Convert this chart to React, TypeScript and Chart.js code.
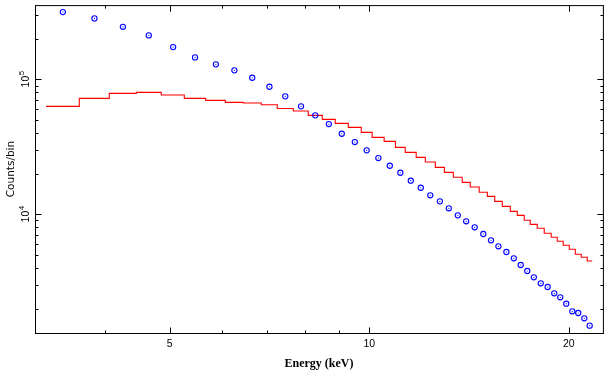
import { useEffect, useRef } from "react";
import { Chart, registerables } from "chart.js";
Chart.register(...registerables);

// Histogram (model) bin edges in keV and counts per bin
const binEdges = [
  3.254, 3.653, 4.054, 4.453, 4.856, 5.26, 5.666, 6.065, 6.456, 6.873, 7.265, 7.68, 8.091,
  8.494, 8.886, 9.297, 9.726, 10.1, 10.53, 10.95, 11.33, 11.77, 12.15, 12.58, 12.98, 13.39,
  13.81, 14.2, 14.65, 15.07, 15.46, 15.87, 16.32, 16.72, 17.13, 17.49, 17.92, 18.36, 18.81,
  19.21, 19.61, 20.03, 20.45, 20.88, 21.32, 21.69,
];
const modelCounts = [
  63100, 72330, 78760, 80110, 76500, 72330, 69900, 67540, 66740, 64840, 60760, 58230, 54110,
  50540, 47220, 44100, 40500, 37190, 34730, 31360, 28800, 26440, 24400, 22290, 20470, 18800,
  17260, 15930, 14560, 13590, 12480, 11460, 10520, 9830, 9030, 8430, 7876, 7233, 6754, 6310,
  5894, 5505, 5054, 4802, 4510,
];
// Data points (bin centres, keV) and counts per bin
const pointEnergy = [
  3.45, 3.85, 4.25, 4.65, 5.06, 5.46, 5.87, 6.26, 6.66, 7.07, 7.47, 7.89, 8.29, 8.69, 9.09,
  9.51, 9.91, 10.32, 10.74, 11.14, 11.55, 11.96, 12.36, 12.78, 13.18, 13.6, 14.0, 14.42,
  14.86, 15.26, 15.66, 16.1, 16.52, 16.92, 17.31, 17.71, 18.14, 18.58, 19.01, 19.41, 19.82,
  20.24, 20.66, 21.1, 21.5,
];
const dataCounts = [
  315100, 283000, 245200, 211800, 173500, 145500, 129200, 116600, 102800, 88150, 74840,
  63100, 54110, 46660, 39540, 34320, 29800, 26120, 22910, 20330, 17740, 15740, 13830, 12480,
  11080, 9830, 8874, 8011, 7147, 6418, 5794, 5256, 4722, 4211, 3802, 3414, 3083, 2894, 2598,
  2428, 2176, 1911, 1857, 1697, 1496,
];

const xMajorTicks = [5, 10, 20];
const xTickLabels = ["5", "10", "20"];
const xMinorTicks = [4, 6, 7, 8, 9];
const yMajorTicks = [1e4, 1e5];
const yTickBase = ["10", "10"];
const yTickExp = ["4", "5"];
const yMinorTicks = [
  2000, 3000, 4000, 5000, 6000, 7000, 8000, 9000, 20000, 30000, 40000, 50000, 60000, 70000,
  80000, 90000, 200000, 300000,
];

const X_MIN = 3.132;
const X_MAX = 22.51;
const Y_MIN = 1320;
const Y_MAX = 355100;

const framePlugin = {
  id: "frame",
  afterDraw(chart: any) {
    const { ctx, chartArea } = chart;
    const xs = chart.scales.x;
    const ys = chart.scales.y;
    const { left, right, top, bottom } = chartArea;
    ctx.save();
    ctx.strokeStyle = "#000";
    ctx.lineWidth = 1;
    ctx.strokeRect(left + 0.5, top + 0.5, right - left, bottom - top);

    const major = 6;
    const minor = 3;
    ctx.beginPath();
    const xt = (v: number, len: number) => {
      const p = Math.round(xs.getPixelForValue(v)) + 0.5;
      ctx.moveTo(p, bottom + 0.5);
      ctx.lineTo(p, bottom + 0.5 - len);
      ctx.moveTo(p, top + 0.5);
      ctx.lineTo(p, top + 0.5 + len);
    };
    const yt = (v: number, len: number) => {
      const p = Math.round(ys.getPixelForValue(v)) + 0.5;
      ctx.moveTo(left + 0.5, p);
      ctx.lineTo(left + 0.5 + len, p);
      ctx.moveTo(right + 0.5, p);
      ctx.lineTo(right + 0.5 - len, p);
    };
    xMajorTicks.forEach((v) => xt(v, major));
    xMinorTicks.forEach((v) => xt(v, minor));
    yMajorTicks.forEach((v) => yt(v, major));
    yMinorTicks.forEach((v) => yt(v, minor));
    ctx.stroke();

    ctx.fillStyle = "#000";
    ctx.font = "10.5px 'Liberation Sans'";
    ctx.textAlign = "center";
    ctx.textBaseline = "alphabetic";
    xMajorTicks.forEach((v, i) => {
      ctx.fillText(xTickLabels[i], xs.getPixelForValue(v), bottom + 13.5);
    });

    yMajorTicks.forEach((v, i) => {
      const py = ys.getPixelForValue(v);
      ctx.save();
      ctx.translate(left - 5.7, py);
      ctx.rotate(-Math.PI / 2);
      ctx.textAlign = "left";
      ctx.font = "10.5px 'Liberation Sans'";
      const wb = ctx.measureText(yTickBase[i]).width;
      ctx.font = "8px 'Liberation Sans'";
      const we = ctx.measureText(yTickExp[i]).width;
      const start = -(wb + we) / 2;
      ctx.font = "10.5px 'Liberation Sans'";
      ctx.fillText(yTickBase[i], start, 0);
      ctx.font = "8px 'Liberation Sans'";
      ctx.fillText(yTickExp[i], start + wb + 0.5, -5.5);
      ctx.restore();
    });

    ctx.font = "bold 12px 'Liberation Serif'";
    ctx.textAlign = "center";
    ctx.fillText("Energy (keV)", (left + right) / 2, 367);

    ctx.save();
    ctx.translate(14, (top + bottom) / 2);
    ctx.rotate(-Math.PI / 2);
    ctx.font = "10.5px 'DejaVu Sans'";
    ctx.textAlign = "center";
    ctx.fillText("Counts/bin", 0, 0);
    ctx.restore();
    ctx.restore();
  },
};

export default function App() {
  const ref = useRef<HTMLCanvasElement | null>(null);
  useEffect(() => {
    if (!ref.current) return;
    const stepData = binEdges.map((e, i) => ({
      x: e,
      y: modelCounts[Math.min(i, modelCounts.length - 1)],
    }));
    const pts = pointEnergy.map((e, i) => ({ x: e, y: dataCounts[i] }));
    const chart = new Chart(ref.current, {
      type: "scatter",
      data: {
        datasets: [
          {
            data: pts,
            pointStyle: "circle",
            pointRadius: 0.6,
            backgroundColor: "#0000ff",
            borderColor: "#0000ff",
            borderWidth: 0,
            showLine: false,
          } as any,
          {
            data: pts,
            pointStyle: "circle",
            pointRadius: 2.6,
            backgroundColor: "rgba(0,0,0,0)",
            borderColor: "#0000ff",
            borderWidth: 1.1,
            showLine: false,
          } as any,
          {
            data: stepData,
            showLine: true,
            stepped: "before",
            borderColor: "#ff0000",
            borderWidth: 1.1,
            pointRadius: 0,
            fill: false,
          } as any,
        ],
      },
      options: {
        animation: false,
        responsive: false,
        devicePixelRatio: 1,
        layout: { padding: { top: 5, right: 5, left: 0, bottom: 0 } },
        plugins: { legend: { display: false }, tooltip: { enabled: false } },
        scales: {
          x: {
            type: "logarithmic",
            min: X_MIN,
            max: X_MAX,
            grid: { display: false },
            border: { display: false },
            ticks: { display: false },
            afterFit: (s: any) => {
              s.height = 39;
            },
          },
          y: {
            type: "logarithmic",
            min: Y_MIN,
            max: Y_MAX,
            grid: { display: false },
            border: { display: false },
            ticks: { display: false },
            afterFit: (s: any) => {
              s.width = 35;
            },
          },
        },
      },
      plugins: [framePlugin],
    });
    return () => chart.destroy();
  }, []);
  return (
    <div style={{ position: "absolute", left: 0, top: 0, width: 608, height: 372, background: "#fff" }}>
      <canvas ref={ref} width={608} height={372} style={{ display: "block" }} />
    </div>
  );
}
